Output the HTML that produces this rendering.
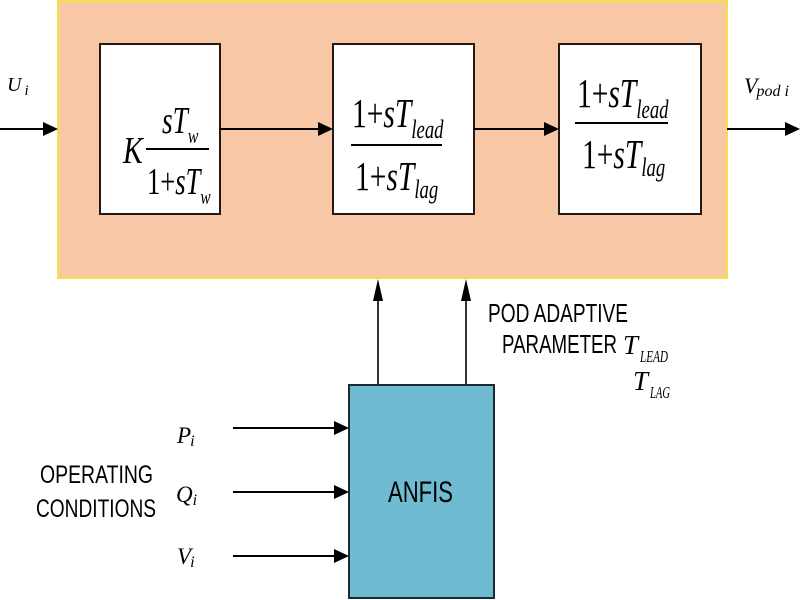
<!DOCTYPE html>
<html>
<head>
<meta charset="utf-8">
<style>
  html, body { margin:0; padding:0; background:#fff; }
  svg { display:block; }
  .serif { font-family: "Liberation Serif", "Times New Roman", serif; }
  .sans { font-family: "Liberation Sans", Arial, sans-serif; }
</style>
</head>
<body>
<svg width="800" height="600" viewBox="0 0 800 600" xmlns="http://www.w3.org/2000/svg">
  <rect x="0" y="0" width="800" height="600" fill="#ffffff"/>

  <!-- Orange controller block -->
  <rect x="58" y="1" width="669" height="277" fill="#F8C8A6" stroke="#F0E24A" stroke-width="2"/>

  <!-- Inner boxes -->
  <rect x="100" y="44" width="120" height="170" fill="#ffffff" stroke="#231a16" stroke-width="2"/>
  <rect x="333" y="44" width="141" height="170" fill="#ffffff" stroke="#231a16" stroke-width="2"/>
  <rect x="559" y="44" width="142" height="170" fill="#ffffff" stroke="#231a16" stroke-width="2"/>

  <!-- Main signal arrows -->
  <g stroke="#000" stroke-width="2" fill="none">
    <line x1="0" y1="129" x2="46" y2="129"/>
    <line x1="220" y1="129" x2="320" y2="129"/>
    <line x1="474" y1="129" x2="546" y2="129"/>
    <line x1="727" y1="129" x2="787" y2="129"/>
  </g>
  <g fill="#000">
    <polygon points="58,129 43,122 43,136"/>
    <polygon points="333,129 318,122 318,136"/>
    <polygon points="559,129 544,122 544,136"/>
    <polygon points="800,129 785,122 785,136"/>
  </g>

  <!-- Box 1 formula: K sTw / (1+sTw) -->
  <g class="serif" fill="#000">
    <text transform="translate(123,163) scale(0.78,1)" font-size="38" font-style="italic">K</text>
    <text transform="translate(162,133) scale(0.72,1)" font-size="38" font-style="italic">sT<tspan font-size="22" dy="10">w</tspan></text>
    <text transform="translate(147,194) scale(0.70,1)" font-size="38">1+<tspan font-style="italic">sT</tspan><tspan font-style="italic" font-size="22" dy="10">w</tspan></text>
  </g>
  <line x1="146" y1="149" x2="209" y2="149" stroke="#000" stroke-width="2"/>

  <!-- Box 2 formula -->
  <g class="serif" fill="#000">
    <text transform="translate(352,127) scale(0.72,1)" font-size="41">1+<tspan font-style="italic">sT</tspan><tspan font-style="italic" font-size="26" dy="11">lead</tspan></text>
    <text transform="translate(355,190) scale(0.72,1)" font-size="41">1+<tspan font-style="italic">sT</tspan><tspan font-style="italic" font-size="26" dy="8">lag</tspan></text>
  </g>
  <line x1="351" y1="145" x2="442" y2="145" stroke="#000" stroke-width="2"/>

  <!-- Box 3 formula -->
  <g class="serif" fill="#000">
    <text transform="translate(577,107) scale(0.72,1)" font-size="41">1+<tspan font-style="italic">sT</tspan><tspan font-style="italic" font-size="26" dy="11">lead</tspan></text>
    <text transform="translate(582,168) scale(0.72,1)" font-size="41">1+<tspan font-style="italic">sT</tspan><tspan font-style="italic" font-size="26" dy="8">lag</tspan></text>
  </g>
  <line x1="575" y1="123" x2="668" y2="123" stroke="#000" stroke-width="2"/>

  <!-- Input / output labels -->
  <g class="serif" fill="#000" font-style="italic">
    <text x="7" y="91" font-size="20">U<tspan font-size="15" dx="3" dy="4">i</tspan></text>
    <text x="744" y="93" font-size="22">V<tspan font-size="16" dx="-1" dy="3">pod i</tspan></text>
  </g>

  <!-- Up arrows from ANFIS -->
  <g stroke="#000" stroke-width="1.6">
    <line x1="378" y1="298" x2="378" y2="385"/>
    <line x1="466" y1="298" x2="466" y2="385"/>
  </g>
  <g fill="#000">
    <polygon points="378,279 373,301 383,301"/>
    <polygon points="466,279 461,301 471,301"/>
  </g>

  <!-- ANFIS block -->
  <rect x="349" y="385" width="145" height="213" fill="#6FBCD2" stroke="#1d2a30" stroke-width="2"/>
  <text class="sans" x="388" y="502" font-size="30" textLength="65" lengthAdjust="spacingAndGlyphs" fill="#000">ANFIS</text>

  <!-- Inputs to ANFIS -->
  <g stroke="#000" stroke-width="2">
    <line x1="233" y1="428" x2="336" y2="428"/>
    <line x1="233" y1="492" x2="336" y2="492"/>
    <line x1="233" y1="556" x2="336" y2="556"/>
  </g>
  <g fill="#000">
    <polygon points="349,428 334,421 334,435"/>
    <polygon points="349,492 334,485 334,499"/>
    <polygon points="349,556 334,549 334,563"/>
  </g>

  <g class="serif" fill="#000" font-style="italic">
    <text x="177" y="443" font-size="23">P<tspan font-size="16" dx="-1" dy="3">i</tspan></text>
    <text x="176" y="502" font-size="23">Q<tspan font-size="16" dx="0" dy="3">i</tspan></text>
    <text x="177" y="564" font-size="23">V<tspan font-size="16" dx="-1" dy="3">i</tspan></text>
  </g>

  <!-- Operating conditions label -->
  <g class="sans" fill="#000">
    <text x="40" y="483" font-size="25" textLength="113" lengthAdjust="spacingAndGlyphs">OPERATING</text>
    <text x="36" y="517" font-size="25" textLength="120" lengthAdjust="spacingAndGlyphs">CONDITIONS</text>
  </g>

  <!-- POD adaptive parameter label -->
  <g class="sans" fill="#000">
    <text x="488" y="322" font-size="26" textLength="140" lengthAdjust="spacingAndGlyphs">POD ADAPTIVE</text>
    <text x="502" y="353" font-size="26" textLength="115" lengthAdjust="spacingAndGlyphs">PARAMETER</text>
  </g>
  <g class="serif" fill="#000" font-style="italic">
    <text x="623" y="354" font-size="27">T</text>
    <text x="640" y="362" font-size="17" textLength="28" lengthAdjust="spacingAndGlyphs">LEAD</text>
    <text x="633" y="390" font-size="27">T</text>
    <text x="650" y="398" font-size="17" textLength="20" lengthAdjust="spacingAndGlyphs">LAG</text>
  </g>
</svg>
</body>
</html>
